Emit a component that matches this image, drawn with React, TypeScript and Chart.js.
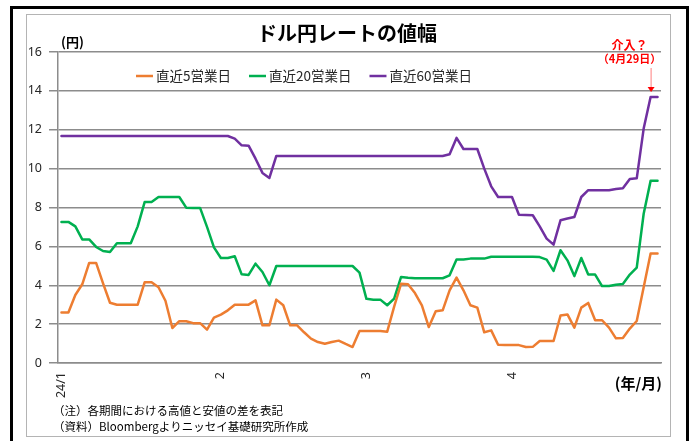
import React, { useEffect, useRef } from 'react';
import { Chart, registerables } from 'chart.js';

Chart.register(...registerables);

// ---- categories: business days of Jan–Apr 2024 ----
const monthNumbers = [1, 2, 3, 4];
const janDays = [1, 2, 3, 4, 5, 8, 9, 10, 11, 12, 15, 16, 17, 18, 19, 22, 23, 24, 25, 26, 29, 30, 31];
const febDays = [1, 2, 5, 6, 7, 8, 9, 12, 13, 14, 15, 16, 19, 20, 21, 22, 23, 26, 27, 28, 29];
const marDays = [1, 4, 5, 6, 7, 8, 11, 12, 13, 14, 15, 18, 19, 20, 21, 22, 25, 26, 27, 28, 29];
const aprDays = [1, 2, 3, 4, 5, 8, 9, 10, 11, 12, 15, 16, 17, 18, 19, 22, 23, 24, 25, 26, 29, 30];
const monthTickLabels = ['24/1', '2', '3', '4'];

// ---- series (yen) ----
const range5 = [
  2.6, 2.6, 3.5, 4.05, 5.15, 5.15, 4.1, 3.1, 3.0, 3.0, 3.0, 3.0, 4.15, 4.15, 3.9, 3.2, 1.8, 2.15, 2.15, 2.05, 2.05, 1.72, 2.33,
  2.49, 2.71, 3.0, 3.0, 3.0, 3.22, 1.94, 1.94, 3.26, 2.97, 1.94, 1.94, 1.58, 1.25, 1.08, 0.99, 1.08, 1.15, 0.98, 0.82, 1.65,
  1.65, 1.65, 1.65, 1.61, 2.9, 4.08, 4.05, 3.6, 2.97, 1.85, 2.66, 2.71, 3.74, 4.39, 3.74, 2.97, 2.85, 1.58, 1.68, 0.94, 0.93,
  0.93, 0.92, 0.82, 0.83, 1.13, 1.13, 1.13, 2.44, 2.5, 1.82, 2.85, 3.09, 2.2, 2.2, 1.82, 1.27, 1.29, 1.77, 2.16, 3.9, 5.63, 5.63,
];
const range20 = [
  7.26, 7.26, 7.03, 6.36, 6.36, 5.97, 5.76, 5.71, 6.16, 6.16, 6.16, 7.03, 8.28, 8.28, 8.54, 8.54, 8.54, 8.54, 7.99, 7.98, 7.98, 7.0, 5.95,
  5.4, 5.4, 5.49, 4.56, 4.53, 5.11, 4.68, 4.0, 4.99, 4.99, 4.99, 4.99, 4.99, 4.99, 4.99, 4.99, 4.99, 4.99, 4.99, 4.99, 4.65,
  3.3, 3.26, 3.26, 2.97, 3.31, 4.43, 4.39, 4.36, 4.36, 4.36, 4.36, 4.36, 4.51, 5.32, 5.32, 5.37, 5.37, 5.37, 5.47, 5.47, 5.47,
  5.47, 5.47, 5.47, 5.47, 5.45, 5.32, 4.74, 5.8, 5.28, 4.47, 5.4, 4.55, 4.55, 3.96, 3.96, 4.03, 4.07, 4.55, 4.91, 7.68, 9.37, 9.37,
];
const range60 = [
  11.68, 11.68, 11.68, 11.68, 11.68, 11.68, 11.68, 11.68, 11.68, 11.68, 11.68, 11.68, 11.68, 11.68, 11.68, 11.68, 11.68, 11.68, 11.68, 11.68, 11.68, 11.68, 11.68,
  11.68, 11.68, 11.54, 11.2, 11.18, 10.51, 9.78, 9.52, 10.65, 10.65, 10.65, 10.65, 10.65, 10.65, 10.65, 10.65, 10.65, 10.65, 10.65, 10.65, 10.65,
  10.65, 10.65, 10.65, 10.65, 10.65, 10.65, 10.65, 10.65, 10.65, 10.65, 10.65, 10.65, 10.74, 11.58, 11.01, 11.01, 11.01, 10.0, 9.09, 8.54, 8.54,
  8.54, 7.63, 7.62, 7.6, 7.03, 6.4, 6.09, 7.34, 7.43, 7.51, 8.54, 8.89, 8.89, 8.89, 8.89, 8.95, 8.99, 9.47, 9.5, 12.06, 13.69, 13.69,
];

const seriesNames = ['直近5営業日', '直近20営業日', '直近60営業日'];
const seriesColors = ['#ED7D31', '#00B050', '#7030A0'];
const seriesValues = [range5, range20, range60];

const yTicks = [0, 2, 4, 6, 8, 10, 12, 14, 16];
const chartTitle = 'ドル円レートの値幅';
const yUnit = '(円)';
const xUnit = '(年/月)';
const notes = ['（注）各期間における高値と安値の差を表記', '（資料）Bloombergよりニッセイ基礎研究所作成'];
const annotationLines = ['介入？', '（4月29日）'];
const annotationCategory = '2024/4/29';

const categories: string[] = [];
const tickText: string[] = [];
[janDays, febDays, marDays, aprDays].forEach((days, m) => {
  days.forEach((d, k) => {
    categories.push(`2024/${monthNumbers[m]}/${d}`);
    tickText.push(k === 0 ? monthTickLabels[m] : '');
  });
});

const JP = '"Noto Sans CJK JP", "Noto Sans", sans-serif';

const decorPlugin = {
  id: 'decor',
  afterDraw(chart: any) {
    const { ctx, scales } = chart;
    ctx.save();
    // title
    ctx.fillStyle = '#000';
    ctx.textBaseline = 'middle';
    ctx.textAlign = 'center';
    ctx.font = `bold 20px ${JP}`;
    ctx.fillText(chartTitle, 347, 33);
    // units
    ctx.textAlign = 'left';
    ctx.font = `bold 13px ${JP}`;
    ctx.fillText(yUnit, 61, 42);
    ctx.textAlign = 'right';
    ctx.font = `bold 15px ${JP}`;
    ctx.fillText(xUnit, 662, 383);
    // legend
    ctx.font = `13.5px ${JP}`;
    ctx.textAlign = 'left';
    let lx = 136;
    const ly = 76;
    chart.data.datasets.forEach((ds: any) => {
      ctx.strokeStyle = ds.borderColor;
      ctx.lineWidth = 2.5;
      ctx.beginPath();
      ctx.moveTo(lx, ly);
      ctx.lineTo(lx + 17, ly);
      ctx.stroke();
      ctx.fillStyle = '#262626';
      ctx.fillText(ds.label, lx + 20, ly);
      lx += 20 + ctx.measureText(ds.label).width + 18;
    });
    // notes
    ctx.fillStyle = '#000';
    ctx.font = `11.5px ${JP}`;
    ctx.fillText(notes[0], 53, 411);
    ctx.fillText(notes[1], 53, 427);
    // annotation
    const idx = categories.indexOf(annotationCategory);
    const ax = scales.x.getPixelForValue(idx);
    const py = scales.y.getPixelForValue(range60[idx]);
    ctx.fillStyle = '#FF0000';
    ctx.textAlign = 'center';
    ctx.font = `bold 12px ${JP}`;
    ctx.fillText(annotationLines[0], ax - 21, 45);
    ctx.font = `bold 11px ${JP}`;
    ctx.fillText(annotationLines[1], ax - 21, 59);
    const tipY = py - 6;
    ctx.strokeStyle = '#FF7F7F';
    ctx.lineWidth = 1;
    ctx.beginPath();
    ctx.moveTo(ax + 0.5, 68);
    ctx.lineTo(ax + 0.5, tipY - 3);
    ctx.stroke();
    ctx.fillStyle = '#FF0000';
    ctx.beginPath();
    ctx.moveTo(ax - 3, tipY - 4);
    ctx.lineTo(ax + 4, tipY - 4);
    ctx.lineTo(ax + 0.5, tipY + 1);
    ctx.closePath();
    ctx.fill();
    ctx.restore();
  },
};

export default function App() {
  const canvasRef = useRef<HTMLCanvasElement | null>(null);

  useEffect(() => {
    if (!canvasRef.current) return;
    const chart = new Chart(canvasRef.current, {
      type: 'line',
      data: {
        labels: categories,
        datasets: seriesValues.map((vals, i) => ({
          label: seriesNames[i],
          data: vals,
          borderColor: seriesColors[i],
          backgroundColor: seriesColors[i],
          borderWidth: 2.5,
          pointRadius: 0,
          pointHoverRadius: 0,
          tension: 0,
          borderJoinStyle: 'round' as const,
          borderCapStyle: 'round' as const,
          fill: false,
        })),
      },
      options: {
        responsive: false,
        animation: false,
        devicePixelRatio: 1,
        layout: { padding: { left: 20, top: 52, right: 31, bottom: 0 } },
        plugins: {
          legend: { display: false },
          title: { display: false },
          tooltip: { enabled: false },
        },
        scales: {
          x: {
            type: 'category',
            offset: true,
            afterFit: (scale: any) => {
              scale.height = 78;
            },
            grid: { display: false, drawTicks: false },
            border: { display: true, color: '#8c8c8c', width: 1.5 },
            ticks: {
              autoSkip: false,
              minRotation: 90,
              maxRotation: 90,
              padding: 9,
              color: '#262626',
              font: { family: 'Noto Sans', size: 12.5 },
              callback: (_v: any, i: number) => tickText[i],
            },
          },
          y: {
            min: 0,
            max: 16,
            afterFit: (scale: any) => {
              scale.width = 38;
            },
            afterBuildTicks: (scale: any) => {
              scale.ticks = yTicks.map((v) => ({ value: v }));
            },
            grid: { color: '#8c8c8c', lineWidth: 1.5, tickLength: 9, drawTicks: true },
            border: { display: true, color: '#8c8c8c', width: 1.5 },
            ticks: {
              padding: 7,
              color: '#262626',
              font: { family: 'Noto Sans', size: 12.5 },
            },
          },
        },
      },
      plugins: [decorPlugin],
    });
    return () => chart.destroy();
  }, []);

  return (
    <div style={{ position: 'absolute', left: 0, top: 0, width: 692, height: 441, overflow: 'hidden', background: '#fff' }}>
      <div
        style={{
          position: 'absolute',
          left: 10,
          top: 6,
          width: 679,
          height: 470,
          border: '3px solid #000',
          boxSizing: 'border-box',
        }}
      />
      <div
        style={{
          position: 'absolute',
          left: 26,
          top: 14,
          width: 645,
          height: 423,
          border: '1px solid #b4b4b4',
          boxSizing: 'border-box',
        }}
      />
      <canvas ref={canvasRef} width={692} height={441} style={{ position: 'absolute', left: 0, top: 0, width: 692, height: 441 }} />
    </div>
  );
}
